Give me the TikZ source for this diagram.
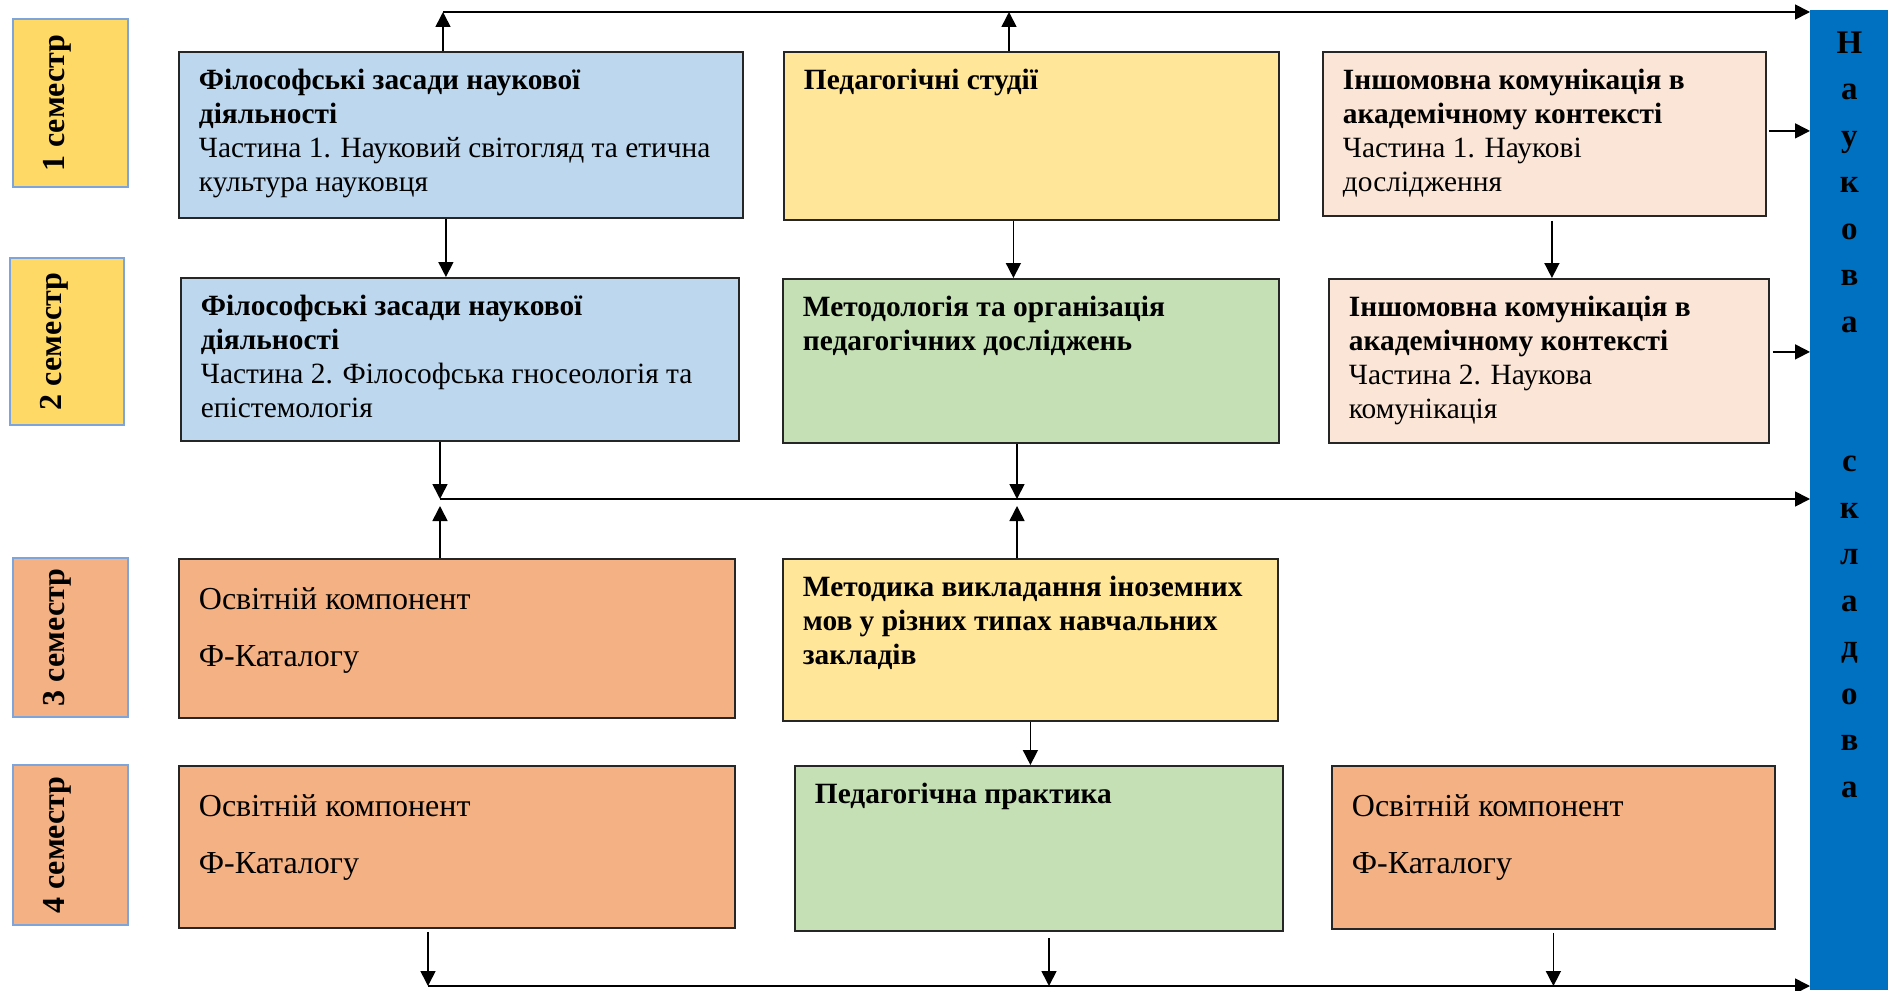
\documentclass[tikz,border=0pt]{standalone}
\usepackage{fontspec}
\setmainfont{Liberation Serif}
\usepackage{tikz}
\usetikzlibrary{positioning}
\usetikzlibrary{arrows.meta}
\definecolor{cBlue}{RGB}{189,215,238}
\definecolor{cYellow}{RGB}{255,230,153}
\definecolor{cPeach}{RGB}{251,229,214}
\definecolor{cGreen}{RGB}{197,224,180}
\definecolor{cOrange}{RGB}{244,177,131}
\definecolor{cSemY}{RGB}{255,217,102}
\definecolor{cSemEdge}{RGB}{125,165,220}
\definecolor{cBar}{RGB}{0,112,192}
% text of a box, top aligned: width, height, text
\newcommand{\cell}[3]{\begin{minipage}[c][#2][t]{#1}\raggedright\vspace*{2.5pt}#3\end{minipage}}
% the two lines of the catalogue boxes
\newcommand{\fcat}{{\fontsize{16}{19}\selectfont\vspace*{6pt}Освітній компонент\\[9.5pt] Ф-Каталогу\par}}
\tikzset{
panel/.style={ % course boxes
draw=black!85,
line width=0.9pt,
anchor=north west,
inner xsep=10pt, inner ysep=6pt,
font=\fontsize{14.7}{17}\selectfont},
sem/.style={ % semester labels, rotated
draw=cSemEdge,
line width=1pt,
rotate=90,
text height=10pt, text depth=16pt,
font=\bfseries\fontsize{16}{18}\selectfont},
arr/.style={ % connectors
-{Triangle[length=7.5pt,width=7.5pt]},
line width=0.8pt}}
\begin{document}
\begin{tikzpicture}[x=0.5pt,y=-0.5pt]
\useasboundingbox (0,0) rectangle (1888,990);

% semesters
\node[sem, fill=cSemY, minimum width=84pt, minimum height=57.5pt] (s1) at (70.5,103) {1 семестр};
\node[sem, fill=cSemY, minimum width=83.5pt, minimum height=57pt] (s2) at (67,341.5) {2 семестр};
\node[sem, fill=cOrange, minimum width=79.5pt, minimum height=57.5pt] (s3) at (70.5,637.5) {3 семестр};
\node[sem, fill=cOrange, minimum width=80pt, minimum height=57.5pt] (s4) at (70.5,845) {4 семестр};

% 1 semester
\node[panel, fill=cBlue] (fil1) at (178,51) {\cell{262pt}{71pt}{\textbf{Філософські засади наукової\\ діяльності}\\ Частина 1. Науковий світогляд та етична\\ культура науковця}};
\node[panel, fill=cYellow] (ped1) at (783,51) {\cell{227.5pt}{72pt}{\textbf{Педагогічні студії}}};
\node[panel, fill=cPeach] (inm1) at (1322,51) {\cell{201.5pt}{70pt}{\textbf{Іншомовна комунікація в\\ академічному контексті}\\ Частина 1. Наукові\\ дослідження}};

% 2 semester
\node[panel, fill=cBlue] (fil2) at (180,277) {\cell{259pt}{69.5pt}{\textbf{Філософські засади наукової\\ діяльності}\\ Частина 2. Філософська гносеологія та\\ епістемологія}};
\node[panel, fill=cGreen] (met2) at (782,278) {\cell{228pt}{70pt}{\textbf{Методологія та організація\\ педагогічних досліджень}}};
\node[panel, fill=cPeach] (inm2) at (1328,278) {\cell{200pt}{70pt}{\textbf{Іншомовна комунікація в\\ академічному контексті}\\ Частина 2. Наукова\\ комунікація}};

% 3 semester
\node[panel, fill=cOrange] (osv3) at (178,558) {\cell{258pt}{67.5pt}{\fcat}};
\node[panel, fill=cYellow] (mik3) at (782,558) {\cell{227.5pt}{69pt}{\textbf{Методика викладання іноземних\\ мов у різних типах навчальних\\ закладів}}};

% 4 semester
\node[panel, fill=cOrange] (osv4) at (178,765) {\cell{258pt}{69pt}{\fcat}};
\node[panel, fill=cGreen] (prk4) at (794,765) {\cell{224pt}{70.5pt}{\textbf{Педагогічна практика}}};
\node[panel, fill=cOrange] (osv4c) at (1331,765) {\cell{201.5pt}{69.5pt}{\fcat}};

% right bar
\node[fill=cBar, anchor=north west, inner sep=0pt, font=\bfseries\fontsize{16.5}{23.25}\selectfont] (nb) at (1810,10) {\begin{minipage}[c][490pt][t]{39pt}\centering\vspace*{10.5pt}Н\\ а\\ у\\ к\\ о\\ в\\ а\\[46.5pt] с\\ к\\ л\\ а\\ д\\ о\\ в\\ а\end{minipage}};

% junction points
\coordinate (tl) at (443,12);
\coordinate (tp) at (1009,12);
\coordinate (ml) at (440,499);
\coordinate (mr) at (1017,499);
\coordinate (mlb) at (440,506);
\coordinate (mrb) at (1017,506);
\coordinate (bl) at (428,986);
\coordinate (bm) at (1049,986);

% top line
\draw[arr] (fil1.north -| tl) -- (tl);
\draw[arr] (ped1.north -| tp) -- (tp);
\draw[arr] (tl) -- (tl -| nb.west);

% 1 -> 2
\draw[arr] ([xshift=-7.5pt]fil1.south) -- ([xshift=-7.5pt]fil1.south |- fil2.north);
\draw[arr] ([xshift=-9pt]ped1.south) -- ([xshift=-9pt]ped1.south |- met2.north);
\draw[arr] ([xshift=3.75pt,yshift=-2pt]inm1.south) -- ([xshift=3.75pt]inm1.south |- inm2.north);
\draw[arr] ([xshift=1pt,yshift=1.5pt]inm1.east) -- ([yshift=1.5pt]inm1.east -| nb.west);
\draw[arr] ([xshift=1.5pt,yshift=4.5pt]inm2.east) -- ([yshift=4.5pt]inm2.east -| nb.west);

% middle line
\draw[arr] (fil2.south -| ml) -- (ml);
\draw[arr] (met2.south -| mr) -- (mr);
\draw[arr] (ml) -- (ml -| nb.west);
\draw[arr] (osv3.north -| mlb) -- (mlb);
\draw[arr] (mik3.north -| mrb) -- (mrb);

% 3 -> 4
\draw[arr] (mik3.south) -- (mik3.south |- prk4.north);

% bottom line
\draw[arr] ([yshift=-1.5pt]osv4.south -| bl) -- (bl);
\draw[arr] ([yshift=-3pt]prk4.south -| bm) -- (bm);
\draw[arr] ([yshift=-1.5pt]osv4c.south) -- (osv4c.south |- bl);
\draw[arr] (bl) -- (bl -| nb.west);
\end{tikzpicture}
\end{document}
